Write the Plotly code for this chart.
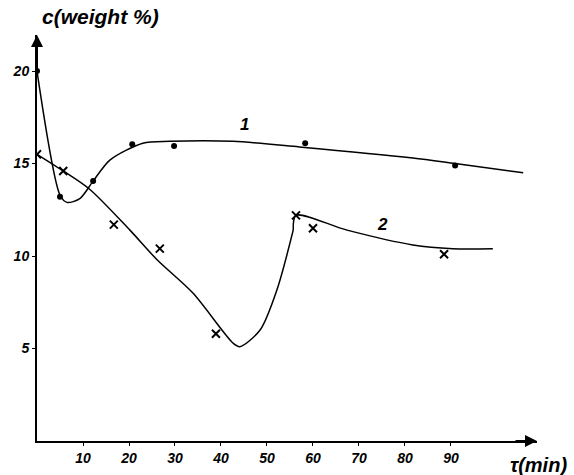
import plotly.graph_objects as go

# measured points
s1_x = [0, 5, 12.2, 20.7, 29.8, 58.3, 90.9]
s1_y = [20, 13.2, 14.05, 16.05, 15.95, 16.1, 14.9]
s2_x = [0, 5.7, 16.7, 26.7, 38.9, 56.3, 60, 88.5]
s2_y = [15.5, 14.6, 11.7, 10.4, 5.8, 12.2, 11.5, 10.1]

# fitted curves
c1_x = [0, 5, 6.5, 9.3, 12.2, 15.9, 23, 28.9, 42.6, 57, 81.7, 90.9, 105.7]
c1_y = [20, 13.3, 12.9, 13.1, 14.05, 15.2, 16.1, 16.2, 16.2, 15.9, 15.3, 15.0, 14.5]
c2_x = [0, 5.7, 11.5, 20.2, 26.1, 33.9, 42.6, 44.1, 48.5, 52.2, 55.7, 56.3, 67.4, 81.7, 90.4, 99.1]
c2_y = [15.5, 14.6, 13.6, 11.4, 9.8, 8.0, 5.3, 5.1, 6.0, 8.2, 11.4, 12.2, 11.4, 10.6, 10.4, 10.4]

x_ticks = [10, 20, 30, 40, 50, 60, 70, 80, 90]
y_ticks = [5, 10, 15, 20]

tick_font = dict(family="Liberation Sans", size=14, color="black", style="italic", weight="bold")

fig = go.Figure()
fig.add_trace(go.Scatter(x=c1_x, y=c1_y, mode="lines", line=dict(color="black", width=1.5, shape="spline", smoothing=0.8), hoverinfo="skip"))
fig.add_trace(go.Scatter(x=c2_x[:11], y=c2_y[:11], mode="lines", line=dict(color="black", width=1.5, shape="spline", smoothing=0.8), hoverinfo="skip"))
fig.add_trace(go.Scatter(x=c2_x[10:], y=c2_y[10:], mode="lines", line=dict(color="black", width=1.5, shape="spline", smoothing=0.8), hoverinfo="skip"))
fig.add_trace(go.Scatter(x=s1_x, y=s1_y, mode="markers", marker=dict(symbol="circle", size=6, color="black")))
fig.add_trace(go.Scatter(x=s2_x, y=s2_y, mode="markers", marker=dict(symbol="x-thin", size=8, line=dict(color="black", width=2))))

XMAX = 108.7
YMAX = 21.95
fig.update_layout(
    width=574, height=475, showlegend=False,
    plot_bgcolor="white", paper_bgcolor="white",
    margin=dict(l=37, r=37, t=35, b=34),
    xaxis=dict(range=[0, XMAX], tickvals=x_ticks, ticktext=[str(v) for v in x_ticks], automargin=False,
               showgrid=False, zeroline=False, showline=True, linecolor="black", linewidth=2,
               ticks="outside", ticklen=3, tickcolor="black", tickfont=tick_font),
    yaxis=dict(range=[0, YMAX], tickvals=y_ticks, ticktext=[str(v) for v in y_ticks], automargin=False,
               showgrid=False, zeroline=False, showline=True, linecolor="black", linewidth=2,
               ticks="outside", ticklen=3, tickcolor="black", tickfont=tick_font),
    annotations=[
        dict(x=XMAX, y=0, ax=XMAX - 5, ay=0, xref="x", yref="y", axref="x", ayref="y",
             showarrow=True, arrowhead=2, arrowsize=1.2, arrowwidth=2, arrowcolor="black", text=""),
        dict(x=0, y=YMAX, ax=0, ay=YMAX - 2, xref="x", yref="y", axref="x", ayref="y",
             showarrow=True, arrowhead=2, arrowsize=1.2, arrowwidth=2, arrowcolor="black", text=""),
        dict(x=0.006, y=1.045, xref="paper", yref="paper", xanchor="left", yanchor="middle",
             text="c(weight %)", showarrow=False,
             font=dict(family="Liberation Sans", size=21, color="black", style="italic", weight="bold")),
        dict(x=1.064, y=-0.059, xref="paper", yref="paper", xanchor="right", yanchor="middle",
             text="τ(min)", showarrow=False,
             font=dict(family="Liberation Sans", size=20, color="black", style="italic", weight="bold")),
        dict(x=45.2, y=17.1, xref="x", yref="y", text="1", showarrow=False,
             font=dict(family="Liberation Sans", size=17, color="black", style="italic", weight="bold")),
        dict(x=75.2, y=11.7, xref="x", yref="y", text="2", showarrow=False,
             font=dict(family="Liberation Sans", size=17, color="black", style="italic", weight="bold")),
    ],
)
fig.write_html("out.html", config={"displayModeBar": False},
               post_script="document.body.style.margin='0';document.body.style.overflow='hidden';")
